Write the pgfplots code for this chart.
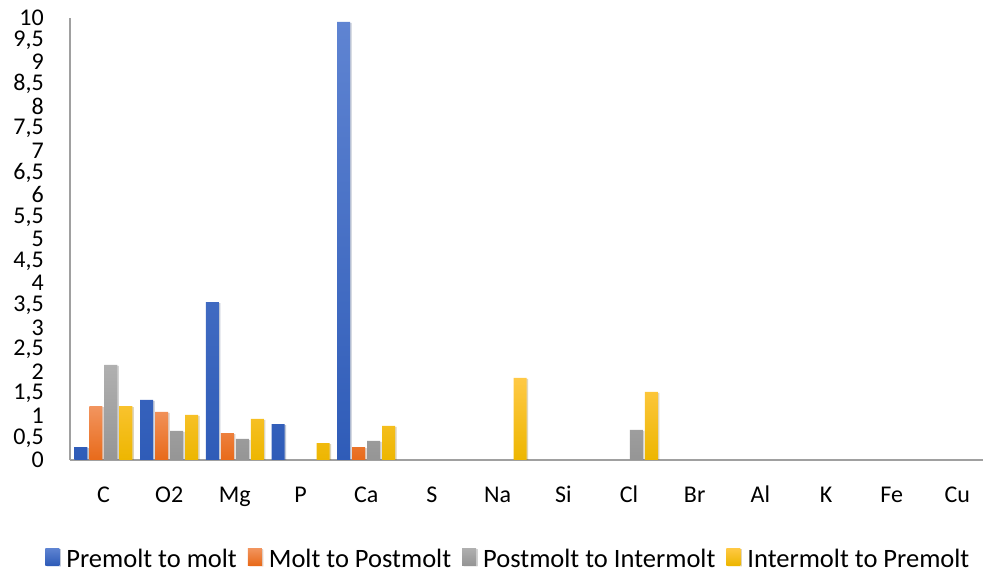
\documentclass[border=0pt]{standalone}
\usepackage{pgfplots}
\pgfplotsset{compat=1.18}
\usetikzlibrary{shadows}
\usepackage{fontspec}
\setmainfont{Carlito}
\definecolor{btop}{HTML}{5F84D2}
\definecolor{bbot}{HTML}{2F5CB8}
\definecolor{otop}{HTML}{F2955F}
\definecolor{obot}{HTML}{E86A1A}
\definecolor{gtop}{HTML}{B0B0B0}
\definecolor{gbot}{HTML}{959595}
\definecolor{ytop}{HTML}{FFC945}
\definecolor{ybot}{HTML}{EDB600}
\definecolor{axgray}{HTML}{A0A0A0}
\tikzset{barshadow/.style={drop shadow={shadow xshift=1.5pt, shadow yshift=-1pt, fill=black, opacity=0.15}}}
\begin{document}
\begin{tikzpicture}
\path[use as bounding box] (-70pt,-117pt) rectangle (913pt,460pt);
\begin{axis}[
  at={(0pt,0pt)}, anchor=south west,
  scale only axis, width=913pt, height=442pt,
  ymin=0, ymax=10, xmin=-0.51, xmax=13.39,
  ybar, bar width=13pt,
  axis x line*=bottom, axis y line*=left,
  axis line style={draw=axgray, line width=1.3pt, -},
  major tick length=0pt,
  ytick={0,0.5,...,10},
  xtick={0,...,13},
  xticklabels={C,O2,Mg,P,Ca,S,Na,Si,Cl,Br,Al,K,Fe,Cu},
  /pgf/number format/use comma,
  /pgf/number format/assume math mode=true,
  yticklabel style={font=\fontsize{24}{24}\selectfont, anchor=east, inner sep=0pt, xshift=-26pt},
  xticklabel style={font=\fontsize{24}{24}\selectfont, anchor=base, inner sep=0pt, yshift=-43pt},
  legend style={draw=none, fill=none, at={(0.479,-0.2229)}, anchor=center,
    font=\fontsize{26.5}{26.5}\selectfont,
    nodes={inner sep=0pt},
    /tikz/every odd column/.append style={column sep=7pt},
    /tikz/every even column/.append style={column sep=11pt}},
  legend columns=4,
  legend image code/.code={\path[barshadow/.style={}, #1] (0pt,-6pt) rectangle (14pt,11pt);},
]
\addplot[draw=none, top color=btop, bottom color=bbot, barshadow, bar shift=-22.5pt] coordinates {
 (0,0.29) (1,1.36) (2,3.57) (3,0.81) (4,9.91)};
\addplot[draw=none, top color=otop, bottom color=obot, barshadow, bar shift=-7.5pt] coordinates {
 (0,1.22) (1,1.09) (2,0.61) (4,0.29)};
\addplot[draw=none, top color=gtop, bottom color=gbot, barshadow, bar shift=7.5pt] coordinates {
 (0,2.15) (1,0.66) (2,0.48) (4,0.43) (8,0.68)};
\addplot[draw=none, top color=ytop, bottom color=ybot, barshadow, bar shift=22.5pt] coordinates {
 (0,1.22) (1,1.02) (2,0.93) (3,0.38) (4,0.77) (6,1.86) (8,1.54)};
\legend{Premolt to molt, Molt to Postmolt, Postmolt to Intermolt, Intermolt to Premolt}
\end{axis}
\end{tikzpicture}
\end{document}
